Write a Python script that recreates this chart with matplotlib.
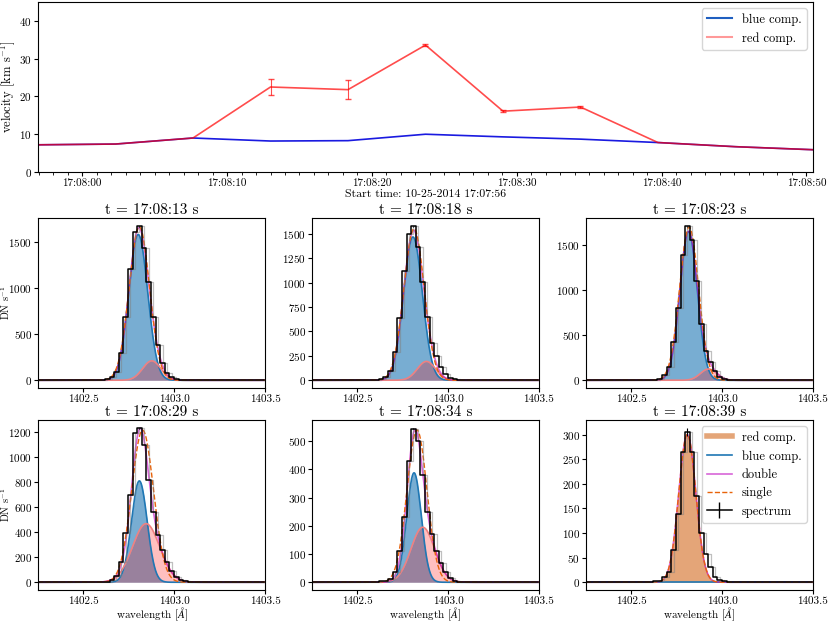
import datetime as dt
import numpy as np
import matplotlib
matplotlib.use('Agg')
import matplotlib.pyplot as plt
import matplotlib.dates as mdates
from matplotlib.ticker import MultipleLocator
from matplotlib.lines import Line2D

plt.rcParams['font.family'] = 'serif'
plt.rcParams['font.serif'] = ['cmr10', 'DejaVu Serif']
plt.rcParams['mathtext.fontset'] = 'cm'
plt.rcParams['axes.formatter.use_mathtext'] = True
plt.rcParams['axes.unicode_minus'] = False

# ---- top panel: fitted velocities ----
times = ['17:07:56.95', '17:08:02.30', '17:08:07.65', '17:08:13.00', '17:08:18.35',
         '17:08:23.70', '17:08:29.05', '17:08:34.40', '17:08:39.75', '17:08:45.10',
         '17:08:50.45']
blue_vel = [7.2, 7.4, 9.0, 8.2, 8.3, 10.0, 9.3, 8.7, 7.8, 6.7, 5.9]
red_vel = [7.2, 7.4, 9.0, 22.5, 21.8, 33.6, 16.1, 17.2, 7.8, 6.7, 5.9]
red_err = [np.nan, np.nan, np.nan, 2.1, 2.6, 0.2, 0.2, 0.3, np.nan, np.nan, np.nan]

# ---- bottom panels: spectra and gaussian fits ----
titles = ['t = 17:08:13 s', 't = 17:08:18 s', 't = 17:08:23 s',
          't = 17:08:29 s', 't = 17:08:34 s', 't = 17:08:39 s']
wave_start = 1402.25
wave_step = 0.0254
n_bins = 50
core_first = 14   # first bin index of the listed spectrum values
spec_core = [
    [3, 10, 35, 90, 300, 680, 1200, 1600, 1665, 1430, 1060, 680, 380, 190, 80, 35, 15, 8, 3],
    [2, 8, 30, 90, 290, 640, 1120, 1500, 1575, 1360, 1010, 650, 380, 250, 140, 60, 25, 10, 3],
    [2, 5, 12, 60, 150, 420, 800, 1390, 1710, 1560, 1100, 620, 330, 200, 100, 40, 15, 5, 2],
    [2, 5, 15, 50, 160, 390, 700, 1190, 1230, 1100, 820, 560, 380, 260, 160, 90, 45, 20, 8],
    [1, 3, 5, 12, 35, 110, 230, 430, 545, 500, 380, 250, 170, 110, 70, 35, 15, 6, 2],
    [1, 2, 3, 10, 20, 65, 138, 265, 306, 265, 175, 101, 58, 31, 10, 4, 2, 1, 1],
]
peak_err = [6, 6, 6, 5, 3, 8]   # error bar on the brightest bin
# gaussian fit parameters (amplitude, centre, sigma)
blue_amp = [1576, 1466, 1650, 810, 388, 0]
blue_cen = [1402.802, 1402.806, 1402.815, 1402.808, 1402.812, 1402.808]
blue_sig = [0.052, 0.052, 0.048, 0.043, 0.040, 0.047]
red_amp = [210, 193, 125, 468, 195, 300]
red_cen = [1402.876, 1402.880, 1402.925, 1402.845, 1402.860, 1402.808]
red_sig = [0.050, 0.050, 0.045, 0.075, 0.065, 0.047]
single_amp = [1660, 1550, 1700, 1215, 540, 300]
single_cen = [1402.808, 1402.812, 1402.818, 1402.826, 1402.828, 1402.808]
single_sig = [0.056, 0.056, 0.052, 0.060, 0.055, 0.047]
ytick_step = [500, 250, 500, 200, 100, 50]


def gauss(x, a, c, s):
    return a * np.exp(-(x - c) ** 2 / (2 * s ** 2))


fig = plt.figure(figsize=(8.3, 6.23), dpi=100)

# top panel
ax = fig.add_axes([0.0458, 0.7239, 0.9337, 0.2729])
t = [dt.datetime.strptime('2014-10-25 ' + s, '%Y-%m-%d %H:%M:%S.%f') for s in times]
ax.plot(t, blue_vel, color='#1a1ae0', lw=1.2)
ax.errorbar(t, red_vel, yerr=red_err, color='red', alpha=0.7, lw=1.2,
            capsize=2, elinewidth=0.8)
ax.set_xlim(t[0], t[-1])
ax.set_ylim(0, 45)
ax.set_yticks([0, 10, 20, 30, 40])
ax.xaxis.set_major_locator(mdates.SecondLocator(bysecond=[0, 10, 20, 30, 40, 50]))
ax.xaxis.set_minor_locator(mdates.SecondLocator())
ax.xaxis.set_major_formatter(mdates.DateFormatter('%H:%M:%S'))
ax.tick_params(labelsize=8, pad=1.5, length=3)
ax.tick_params(which='minor', length=2)
ax.set_ylabel(r'velocity [km s$^{-1}$]', fontsize=9)
ax.yaxis.set_label_coords(-0.027, 0.5)
ax.set_xlabel('Start time: 10-25-2014 17:07:56', fontsize=8.5, labelpad=1)
ax.legend([Line2D([], [], color='#1f5fc0', lw=1.5),
           Line2D([], [], color='red', alpha=0.4, lw=1.5)],
          ['blue comp.', 'red comp.'], loc='upper right', fontsize=9)

# bottom panels
lefts = [0.0458, 0.3759, 0.7060]
bottoms = [0.3772, 0.0530]
xf = np.linspace(1402.25, 1403.5, 600)
wave = wave_start + wave_step * np.arange(n_bins)

for k in range(6):
    row, col = divmod(k, 3)
    a = fig.add_axes([lefts[col], bottoms[row], 0.2735, 0.2729])
    spec = np.zeros(n_bins)
    spec[core_first:core_first + len(spec_core[k])] = spec_core[k]
    err = np.full(n_bins, np.nan)
    err[np.argmax(spec)] = peak_err[k]

    blue = gauss(xf, blue_amp[k], blue_cen[k], blue_sig[k])
    red = gauss(xf, red_amp[k], red_cen[k], red_sig[k])
    single = gauss(xf, single_amp[k], single_cen[k], single_sig[k])

    if k < 5:
        a.fill_between(xf, blue, color='C0', alpha=0.6, lw=0)
        a.plot(xf, blue, color='C0', lw=1.2)
        a.fill_between(xf, red, color='red', alpha=0.25, lw=0)
        a.plot(xf, red, color='lightcoral', lw=1.2)
    else:
        a.fill_between(xf, red, color='chocolate', alpha=0.6, lw=0)
        a.plot(xf, blue, color='C0', lw=1.2)
    a.plot(xf, blue + red, color='m', alpha=0.6, lw=1.2)
    a.plot(xf, single, color='#e8630a', ls='--', lw=1)
    a.plot(wave, spec, color='0.5', alpha=0.5, drawstyle='steps-post', lw=0.9)
    a.errorbar(wave, spec, yerr=err, color='black', drawstyle='steps-mid',
               lw=1.1, elinewidth=0.8)

    a.set_xlim(1402.25, 1403.5)
    a.set_xticks([1402.5, 1403.0, 1403.5])
    a.xaxis.set_major_formatter(plt.FuncFormatter(lambda v, p: '%.1f' % v))
    a.yaxis.set_major_locator(MultipleLocator(ytick_step[k]))
    a.tick_params(labelsize=8, pad=1.5, length=3)
    a.set_title(titles[k], fontsize=11, pad=3)
    if col == 0:
        a.set_ylabel(r'DN s$^{-1}$', fontsize=7.5)
        a.yaxis.set_label_coords(-0.113, 0.5)
    if row == 1:
        a.set_xlabel(r'wavelength [$\AA$]', fontsize=8)
        a.xaxis.set_label_coords(0.5, -0.09)

    if k == 5:
        handles = [Line2D([], [], color='chocolate', alpha=0.6, lw=4),
                   Line2D([], [], color='C0', lw=1.2),
                   Line2D([], [], color='m', alpha=0.6, lw=1.2),
                   Line2D([], [], color='#e8630a', ls='--', lw=1),
                   Line2D([], [], color='black', marker='|', markersize=12, lw=1.1)]
        a.legend(handles, ['red comp.', 'blue comp.', 'double', 'single', 'spectrum'],
                 loc='upper right', fontsize=9)

fig.savefig('out.png', dpi=100)
